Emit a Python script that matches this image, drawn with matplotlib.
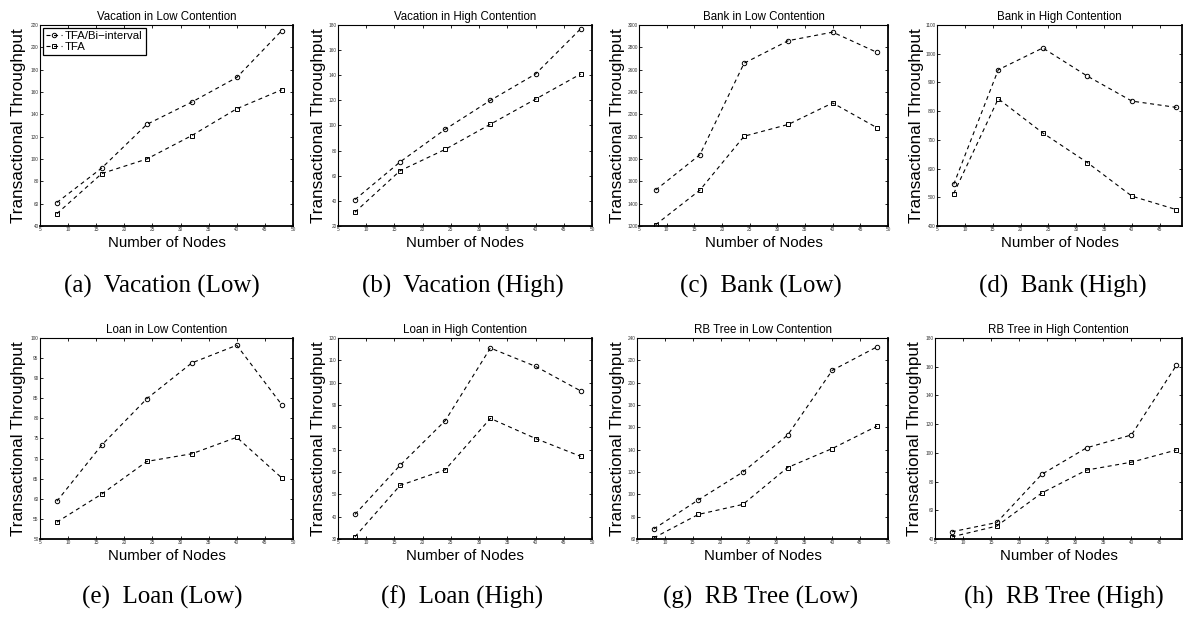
import matplotlib
matplotlib.use("Agg")
import matplotlib.pyplot as plt
from matplotlib.ticker import MultipleLocator

# ---- data -------------------------------------------------------------
nodes = [8, 16, 24, 32, 40, 48]
series_names = ["TFA/Bi\u2212interval", "TFA"]

vacation_low_bi = [61, 92, 131, 151, 173, 215]
vacation_low_tfa = [51, 87, 100, 121, 145, 162]

vacation_high_bi = [41, 71, 97, 120, 141, 177]
vacation_high_tfa = [31, 64, 81, 101, 121, 141]

bank_low_bi = [1522, 1838, 2658, 2860, 2936, 2755]
bank_low_tfa = [1211, 1521, 2004, 2110, 2302, 2080]

bank_high_bi = [545, 944, 1020, 922, 835, 813]
bank_high_tfa = [513, 843, 724, 621, 504, 457]

loan_low_bi = [59.4, 73.4, 84.9, 93.8, 98.2, 83.4]
loan_low_tfa = [54.2, 61.2, 69.3, 71.2, 75.3, 65.2]

loan_high_bi = [41, 63, 83, 115.5, 107.3, 96.3]
loan_high_tfa = [31, 54, 61, 84, 75, 67]

rbtree_low_bi = [69, 95, 120, 153, 211, 232]
rbtree_low_tfa = [61, 82, 91, 124, 141, 161]

rbtree_high_bi = [45, 51.5, 85, 103.5, 112.5, 161]
rbtree_high_tfa = [41.5, 49, 72, 88, 93.5, 102]

titles = [
    "Vacation in Low Contention", "Vacation in High Contention",
    "Bank in Low Contention", "Bank in High Contention",
    "Loan in Low Contention", "Loan in High Contention",
    "RB Tree in Low Contention", "RB Tree in High Contention",
]
captions = [
    "(a)  Vacation (Low)", "(b)  Vacation (High)",
    "(c)  Bank (Low)", "(d)  Bank (High)",
    "(e)  Loan (Low)", "(f)  Loan (High)",
    "(g)  RB Tree (Low)", "(h)  RB Tree (High)",
]
bi_series = [vacation_low_bi, vacation_high_bi, bank_low_bi, bank_high_bi,
             loan_low_bi, loan_high_bi, rbtree_low_bi, rbtree_high_bi]
tfa_series = [vacation_low_tfa, vacation_high_tfa, bank_low_tfa, bank_high_tfa,
              loan_low_tfa, loan_high_tfa, rbtree_low_tfa, rbtree_high_tfa]
y_ranges = [(40, 220, 20), (20, 180, 20), (1200, 3000, 200), (400, 1100, 100),
            (50, 100, 5), (30, 120, 10), (60, 240, 20), (40, 180, 20)]
x_max = [50, 50, 50, 49, 50, 50, 50, 49]

# ---- layout (pixels) ---------------------------------------------------
W, H = 1183, 617
col_lr = [[(40, 293), (338, 592), (639, 888), (937, 1182)],
          [(40, 293), (338, 592), (637, 888), (935, 1182)]]
row_tb = [(25, 226), (338, 539)]
ylabel_gap = [[21.5, 20, 21, 21], [21.5, 20, 19.5, 21]]
caption_y = [286, 597]
caption_x = [[162, 463, 761, 1063], [162, 462, 761, 1064]]

fig = plt.figure(figsize=(W / 100, H / 100), dpi=100)
sans = ["Liberation Sans", "DejaVu Sans"]
serif = ["Liberation Serif", "DejaVu Serif"]

for k in range(8):
    r, c = divmod(k, 4)
    l, rr = col_lr[r][c]
    t, b = row_tb[r]
    ax = fig.add_axes([l / W, 1 - b / H, (rr - l) / W, (b - t) / H])

    line_kw = dict(color="black", lw=0.8, dashes=(3.6, 3.2), markersize=3.2,
                   markerfacecolor="none", markeredgewidth=0.7)
    ax.plot(nodes, bi_series[k], marker="o", label=series_names[0], **line_kw)
    ax.plot(nodes, tfa_series[k], marker="s", label=series_names[1], **line_kw)

    y0, y1, ys = y_ranges[k]
    ax.set_xlim(5, x_max[k])
    ax.set_ylim(y0, y1)
    ax.xaxis.set_major_locator(MultipleLocator(5))
    ax.yaxis.set_major_locator(MultipleLocator(ys))
    ax.tick_params(direction="in", length=2.2, width=0.6, top=True, right=True,
                   labelsize=3.4, pad=1.0, labelcolor="#333333")
    for lab in ax.get_xticklabels() + ax.get_yticklabels():
        lab.set_family(sans)

    for side in ("left", "top"):
        ax.spines[side].set_linewidth(0.8)
    for side in ("right", "bottom"):
        ax.spines[side].set_linewidth(1.3)

    ax.set_title(titles[k], fontsize=8.3, family=sans, pad=3.5)
    ax.set_xlabel("Number of Nodes", fontsize=10.8, family=sans, va="center")
    ax.xaxis.set_label_coords(0.5, -17 / (b - t))
    ax.set_ylabel("Transactional Throughput", fontsize=12.3, family=sans, va="center")
    ax.yaxis.set_label_coords(-ylabel_gap[r][c] / (rr - l), 0.5)

    if k == 0:
        leg = ax.legend(loc="upper left", bbox_to_anchor=(0, 1),
                        handlelength=1.45, handletextpad=0.25, borderpad=0.25,
                        labelspacing=0.15, borderaxespad=0.25, fancybox=False,
                        framealpha=1, prop={"family": sans, "size": 8.2})
        leg.get_frame().set_edgecolor("black")
        leg.get_frame().set_linewidth(0.9)

    fig.text(caption_x[r][c] / W, 1 - caption_y[r] / H, captions[k],
             ha="center", va="center", fontsize=18, family=serif)

fig.savefig("out.png", dpi=100)
